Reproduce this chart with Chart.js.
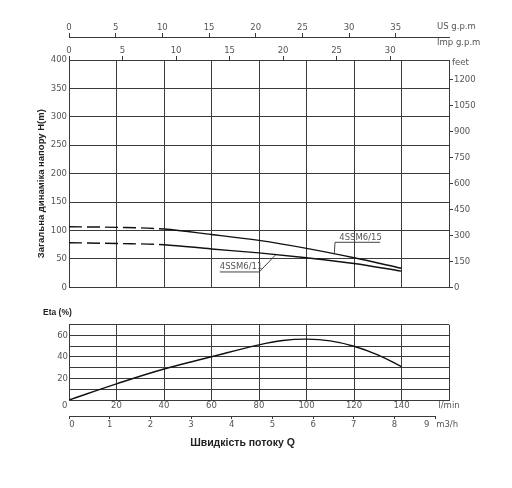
<!DOCTYPE html>
<html><head><meta charset="utf-8">
<script src="https://cdn.jsdelivr.net/npm/chart.js@4.4.0/dist/chart.umd.min.js"></script>
<style>
html,body{margin:0;padding:0;background:#fff;}
#wrap{position:relative;width:512px;height:488px;overflow:hidden;}
#c1{position:absolute;left:0;top:0;}
#c2{position:absolute;left:0;top:300px;}
</style></head><body>
<div id="wrap">
<canvas id="c1" width="512" height="300"></canvas>
<canvas id="c2" width="512" height="188"></canvas>
</div>
<script>
// ---- data ----
const flowLmin = [0, 20, 40, 60, 80, 100, 120, 140];
const head15 = [106.5, 105.5, 102.5, 93, 82.5, 68.5, 52, 33.5];
const head11 = [78.5, 77, 75, 67.5, 60.5, 52, 42, 28.5];
const etaFlow = [0, 20, 40, 60, 80, 90, 100, 110, 120, 130, 140];
const etaVals = [0, 15, 28.8, 40.2, 51.3, 55.3, 56.6, 55, 50, 42, 31];

const headTicks = [0, 50, 100, 150, 200, 250, 300, 350, 400];
const feetTicks = [0, 150, 300, 450, 600, 750, 900, 1050, 1200];
const impTicks = [0, 5, 10, 15, 20, 25, 30];
const usTicks = [0, 5, 10, 15, 20, 25, 30, 35];
const lminTicks = [0, 20, 40, 60, 80, 100, 120, 140, 160];
const m3hTicks = [0, 1, 2, 3, 4, 5, 6, 7, 8, 9];
const etaTicks = [0, 10, 20, 30, 40, 50, 60, 70];
const etaLabelTicks = [20, 40, 60];

const seriesNames = ['4SSM6/15', '4SSM6/11'];

// ---- style ----
const GRID = '#3a3a3a';
const TICKC = '#555';
const TF = {family: "'DejaVu Sans', sans-serif", size: 8.5};
const LINEC = '#111';

function setTicks(arr){ return s => { s.ticks = arr.map(v => ({value: v})); }; }
const dashFirst = {borderDash: c => (c.p0.parsed.x < 40 ? [13, 5] : undefined)};

function pts(xs, ys){ return xs.map((x, i) => ({x: x, y: ys[i]})); }

const topTexts = {
  id: 'topTexts',
  afterDraw(chart){
    const ctx = chart.ctx, a = chart.chartArea;
    const xs = chart.scales.x, ys = chart.scales.y;
    ctx.save();
    ctx.fillStyle = TICKC;
    ctx.font = "8.5px 'DejaVu Sans', sans-serif";
    ctx.textBaseline = 'middle';
    ctx.textAlign = 'left';
    ctx.fillText('US g.p.m', a.right - 12, chart.scales.xUS.bottom - 10);
    ctx.fillText('Imp g.p.m', a.right - 12, chart.scales.xImp.top + 6);
    ctx.fillText('feet', a.right + 3, a.top + 3);
    // left title
    ctx.save();
    ctx.translate(41, (a.top + a.bottom) / 2 + 10);
    ctx.rotate(-Math.PI / 2);
    ctx.textAlign = 'center';
    ctx.fillStyle = '#222';
    ctx.font = "bold 9.5px 'Liberation Sans', Arial, sans-serif";
    ctx.fillText('Загальна динаміка напору H(m)', 0, 0);
    ctx.restore();
    // annotations
    const P = (x, y) => [xs.getPixelForValue(x), ys.getPixelForValue(y)];
    ctx.strokeStyle = '#444';
    ctx.lineWidth = 1;
    ctx.font = "8.5px 'DejaVu Sans', sans-serif";
    ctx.fillStyle = '#555';
    // 4SSM6/15
    let t = P(113.8, 87.3); ctx.fillText(seriesNames[0], t[0], t[1]);
    let u0 = P(112, 79.2), u1 = P(131, 79.2), l1 = P(111.7, 58.1);
    ctx.beginPath(); ctx.moveTo(u1[0], u1[1]); ctx.lineTo(u0[0], u0[1]); ctx.lineTo(l1[0], l1[1]); ctx.stroke();
    // 4SSM6/11
    t = P(63.5, 36.3); ctx.fillText(seriesNames[1], t[0], t[1]);
    u0 = P(63.5, 27); u1 = P(80.1, 27); l1 = P(86.9, 56.8);
    ctx.beginPath(); ctx.moveTo(u0[0], u0[1]); ctx.lineTo(u1[0], u1[1]); ctx.lineTo(l1[0], l1[1]); ctx.stroke();
    ctx.restore();
  }
};

new Chart(document.getElementById('c1'), {
  type: 'line',
  data: {datasets: [
    {label: seriesNames[0], data: pts(flowLmin, head15), xAxisID: 'x', yAxisID: 'y',
     borderColor: LINEC, borderWidth: 1.4, pointRadius: 0, cubicInterpolationMode: 'monotone', segment: dashFirst},
    {label: seriesNames[1], data: pts(flowLmin, head11), xAxisID: 'x', yAxisID: 'y',
     borderColor: LINEC, borderWidth: 1.4, pointRadius: 0, cubicInterpolationMode: 'monotone', segment: dashFirst}
  ]},
  options: {
    responsive: false, animation: false, events: [],
    layout: {padding: 0},
    plugins: {legend: {display: false}, tooltip: {enabled: false}},
    scales: {
      x: {type: 'linear', position: 'bottom', weight: 0, min: 0, max: 160, bounds: 'data',
          afterBuildTicks: setTicks(lminTicks), ticks: {display: false},
          grid: {color: GRID, lineWidth: 1, drawTicks: false}, border: {color: GRID},
          afterFit: s => { s.height = 12.7; }},
      xImp: {type: 'linear', position: 'top', weight: 0, min: 0, max: 35.5, bounds: 'data',
          afterBuildTicks: setTicks(impTicks),
          ticks: {font: TF, color: TICKC, padding: 0, maxRotation: 0, autoSkip: false, callback: v => String(v)},
          grid: {drawOnChartArea: false, tickLength: 4, color: GRID}, border: {color: GRID},
          afterFit: s => { s.height = 23; }},
      xUS: {type: 'linear', position: 'top', weight: 1, min: 0, max: 40.7, bounds: 'data',
          afterBuildTicks: setTicks(usTicks),
          ticks: {font: TF, color: TICKC, padding: 0, maxRotation: 0, autoSkip: false, callback: v => String(v)},
          grid: {drawOnChartArea: false, tickLength: 4, color: GRID}, border: {color: GRID},
          afterFit: s => { s.height = 37; }},
      y: {type: 'linear', position: 'left', min: 0, max: 400, bounds: 'data',
          afterBuildTicks: setTicks(headTicks),
          ticks: {font: TF, color: TICKC, padding: 2, autoSkip: false, callback: v => String(v)},
          grid: {color: GRID, lineWidth: 1, drawTicks: false}, border: {color: GRID},
          afterFit: s => { s.width = 69; }},
      yFeet: {type: 'linear', position: 'right', min: 0, max: 400 * 3.28084, bounds: 'data',
          afterBuildTicks: setTicks(feetTicks),
          ticks: {font: TF, color: TICKC, padding: 1, autoSkip: false, callback: v => String(v)},
          grid: {drawOnChartArea: false, tickLength: 4, color: GRID}, border: {color: GRID},
          afterFit: s => { s.width = 63; }}
    }
  },
  plugins: [topTexts]
});

const bottomTexts = {
  id: 'bottomTexts',
  afterDraw(chart){
    const ctx = chart.ctx, a = chart.chartArea;
    const m = chart.scales.xM;
    ctx.save();
    // m3/h axis line from 0 to 9
    ctx.strokeStyle = GRID; ctx.lineWidth = 1;
    const yl = Math.round(m.top) + 0.5;
    ctx.beginPath(); ctx.moveTo(m.getPixelForValue(0), yl); ctx.lineTo(m.getPixelForValue(9), yl); ctx.stroke();
    ctx.fillStyle = TICKC;
    ctx.font = "8.5px 'DejaVu Sans', sans-serif";
    ctx.textBaseline = 'middle';
    ctx.textAlign = 'left';
    ctx.fillText('m3/h', m.getPixelForValue(9) + 1, m.top + 9);
    ctx.fillStyle = '#222';
    ctx.font = "bold 8.5px 'Liberation Sans', Arial, sans-serif";
    ctx.fillText('Eta (%)', 43, 13);
    ctx.textAlign = 'center';
    ctx.font = "bold 10.5px 'Liberation Sans', Arial, sans-serif";
    ctx.fillText('Швидкість потоку Q', 242.5, 143);
    ctx.restore();
  }
};

new Chart(document.getElementById('c2'), {
  type: 'line',
  data: {datasets: [
    {label: 'Eta', data: pts(etaFlow, etaVals), xAxisID: 'x', yAxisID: 'y',
     borderColor: LINEC, borderWidth: 1.4, pointRadius: 0, tension: 0.4}
  ]},
  options: {
    responsive: false, animation: false, events: [],
    layout: {padding: {top: 24.7, right: 63, left: 0, bottom: 0}},
    plugins: {legend: {display: false}, tooltip: {enabled: false}},
    scales: {
      x: {type: 'linear', position: 'bottom', weight: 0, min: 0, max: 160, bounds: 'data',
          afterBuildTicks: setTicks(lminTicks),
          ticks: {font: TF, color: TICKC, padding: 1, maxRotation: 0, autoSkip: false,
                  callback: v => (v === 0 ? '0\u2003' : v === 160 ? 'l/min' : String(v))},
          grid: {color: GRID, lineWidth: 1, drawTicks: false}, border: {color: GRID},
          afterFit: s => { s.height = 16; }},
      xM: {type: 'linear', position: 'bottom', weight: 1, min: 0, max: 9.34, bounds: 'data',
          afterBuildTicks: setTicks(m3hTicks),
          ticks: {font: TF, color: TICKC, padding: 1, maxRotation: 0, autoSkip: false,
                  callback: v => (v === 0 ? '\u2002\u20090' : v === 9 ? '9\u2003\u2003' : String(v))},
          grid: {drawOnChartArea: false, tickLength: 3, color: GRID}, border: {display: false},
          afterFit: s => { s.height = 72; }},
      y: {type: 'linear', position: 'left', min: 0, max: 70, bounds: 'data',
          afterBuildTicks: setTicks(etaTicks),
          ticks: {font: TF, color: TICKC, padding: 1, autoSkip: false,
                  callback: v => (etaLabelTicks.includes(v) ? String(v) : '')},
          grid: {color: GRID, lineWidth: 1, drawTicks: false}, border: {color: GRID},
          afterFit: s => { s.width = 69; }}
    }
  },
  plugins: [bottomTexts]
});
</script>
</body></html>
